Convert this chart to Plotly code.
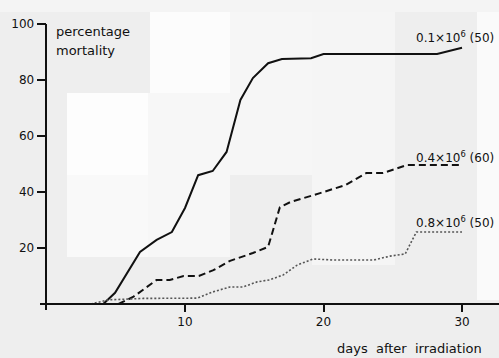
import plotly.graph_objects as go

# ---- data ----
days_01 = [0, 4.1, 4.95, 6.75, 7.95, 9.05, 10.0, 10.95, 12.0, 13.0, 14.0, 14.9, 16.0, 17.0, 19.1, 20.0, 28.2, 30.0]
mort_01 = [0, 0, 4, 18.6, 22.9, 25.7, 34.3, 46, 47.5, 54.3, 72.9, 80.7, 86, 87.5, 87.8, 89.3, 89.3, 91.5]

days_04 = [5.2, 6.25, 7.95, 8.9, 9.9, 11.0, 12.05, 13.25, 14.9, 16.0, 16.85, 17.6, 19.75, 21.6, 23.1, 24.3, 25.3, 26.0, 30.0]
mort_04 = [0, 2.5, 8.6, 8.6, 10, 10, 12.1, 15.4, 18.2, 20.4, 34.6, 36.4, 39.6, 42.5, 46.8, 46.8, 48.4, 49.6, 49.6]

days_08 = [3.2, 4.5, 7.0, 10.9, 12.0, 13.25, 14.2, 15.2, 16.1, 17.1, 18.1, 19.25, 20.7, 23.6, 24.8, 25.9, 26.7, 27.2, 30.0]
mort_08 = [0, 1.5, 2.0, 2.1, 4.3, 6.1, 6.1, 7.9, 8.6, 10.4, 13.9, 16.1, 15.7, 15.7, 17.1, 17.9, 25.7, 25.7, 25.7]

series_labels = ["0.1×10<sup>6</sup> (50)", "0.4×10<sup>6</sup> (60)", "0.8×10<sup>6</sup> (50)"]
label_y = [95.4, 52.5, 29.3]
label_x = 26.6

y_ticks = [20, 40, 60, 80, 100]
x_ticks = [10, 20, 30]

# ---- layout geometry ----
W, H = 499, 358
L, R, T, B = 40, 0, 24, 48
X_RANGE = [-0.469, 32.67]
Y_RANGE = [-2.14, 100]
FONT = "DejaVu Sans"
INK = "#111111"
BG = "#eeeeee"

fig = go.Figure()
fig.add_trace(go.Scatter(x=days_01, y=mort_01, mode="lines",
                         line=dict(color=INK, width=2), showlegend=False))
fig.add_trace(go.Scatter(x=days_04, y=mort_04, mode="lines",
                         line=dict(color=INK, width=2, dash="7px,4px"), showlegend=False))
fig.add_trace(go.Scatter(x=days_08, y=mort_08, mode="lines",
                         line=dict(color="#555555", width=1.6, dash="2px,2px"), showlegend=False))

pw, ph = W - L - R, H - T - B
def px_x(p):
    return (p - L) / pw
def px_y(p):
    return (H - B - p) / ph

# scanned background blocks (decoration)
blocks = [
    (0, 0, 499, 12, "#f4f4f4"),
    (150, 12, 230, 93, "#fcfcfc"),
    (67, 93, 148, 175, "#fdfdfd"),
    (67, 175, 148, 257, "#f9f9f9"),
    (148, 93, 230, 257, "#f7f7f7"),
    (230, 12, 312, 175, "#f6f6f6"),
    (312, 12, 395, 265, "#f5f5f5"),
    (477, 12, 499, 300, "#fafafa"),
]
shapes = []
for x0, y0, x1, y1, c in blocks:
    shapes.append(dict(type="rect", xref="paper", yref="paper", layer="below",
                       x0=px_x(x0), x1=px_x(x1), y0=px_y(y1), y1=px_y(y0),
                       fillcolor=c, line=dict(width=0)))

annotations = []
for txt, ly in zip(series_labels, label_y):
    annotations.append(dict(x=label_x, y=ly, xref="x", yref="y", text=txt, showarrow=False,
                            xanchor="left", yanchor="middle", borderpad=0,
                            font=dict(family=FONT, size=12, color=INK)))
annotations.append(dict(x=0.55, y=97.5, xref="x", yref="y", text="percentage", showarrow=False,
                        xanchor="left", yanchor="middle", font=dict(family=FONT, size=13, color=INK)))
annotations.append(dict(x=0.55, y=90.4, xref="x", yref="y", text="mortality", showarrow=False,
                        xanchor="left", yanchor="middle", font=dict(family=FONT, size=13, color=INK)))
annotations.append(dict(x=px_x(409), y=px_y(348), xref="paper", yref="paper",
                        text="days\u00a0 after\u00a0 irradiation",
                        showarrow=False, xanchor="center", yanchor="middle", borderpad=0,
                        font=dict(family=FONT, size=13, color=INK)))

x0_frac = (0 - X_RANGE[0]) / (X_RANGE[1] - X_RANGE[0])
y0_frac = (0 - Y_RANGE[0]) / (Y_RANGE[1] - Y_RANGE[0])

fig.update_layout(
    width=W, height=H,
    margin=dict(l=L, r=R, t=T, b=B, pad=0),
    paper_bgcolor=BG, plot_bgcolor="rgba(0,0,0,0)",
    shapes=shapes, annotations=annotations,
    font=dict(family=FONT, size=12, color=INK),
    xaxis=dict(range=X_RANGE, anchor="free", position=y0_frac, showline=True, linecolor=INK,
               linewidth=1.8, ticks="outside", ticklen=7, tickwidth=1.5, tickcolor=INK,
               tickvals=x_ticks, showgrid=False, zeroline=False,
               tickfont=dict(family=FONT, size=12, color=INK)),
    yaxis=dict(range=Y_RANGE, anchor="free", position=x0_frac, showline=True, linecolor=INK,
               linewidth=1.8, ticks="outside", ticklen=9, tickwidth=1.5, tickcolor=INK,
               tickvals=y_ticks, showgrid=False, zeroline=False,
               tickfont=dict(family=FONT, size=12, color=INK)),
)

fig.write_html("out.html", config={"displayModeBar": False},
               post_script="document.body.style.margin='0';document.body.style.padding='0';")
